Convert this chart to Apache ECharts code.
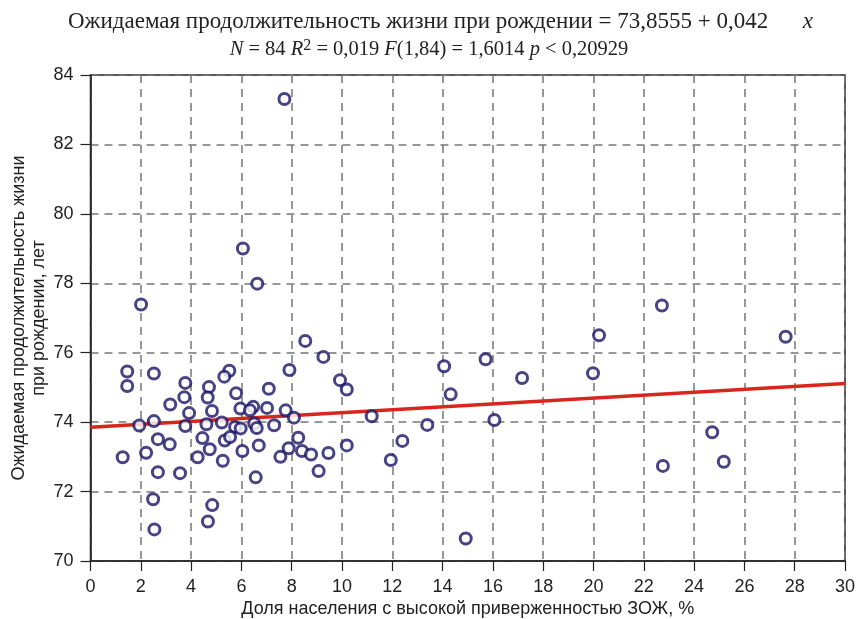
<!DOCTYPE html>
<html>
<head>
<meta charset="utf-8">
<script src="https://cdn.jsdelivr.net/npm/echarts@6/dist/echarts.min.js"></script>
<style>
  html, body { margin: 0; padding: 0; background: #fff; }
  #chart { width: 858px; height: 619px; }
</style>
</head>
<body>
<div id="chart"></div>
<script>
// доля населения с высокой приверженностью ЗОЖ, %
const shareHLS = [
  7.71, 6.06, 6.63, 2.01,
  8.54, 9.26, 1.46, 2.52, 1.46, 5.52, 5.32, 7.91, 9.92, 10.19,
  3.77, 4.71, 5.79, 7.09, 3.73, 4.66, 3.17, 3.92, 4.83, 5.96,
  6.47, 6.34, 7.02, 7.76, 8.09, 1.94, 2.52, 3.77, 4.61, 5.22,
  5.75, 5.97, 6.51, 6.61, 7.30, 2.68, 3.15, 4.45, 5.34, 5.55,
  4.74, 6.04, 6.69, 8.26, 7.88, 8.41, 8.77, 9.46, 10.19, 1.28,
  2.21, 4.26, 5.26, 7.55, 2.68, 3.56, 6.57, 9.07, 2.49, 4.84,
  2.54, 4.67,
  11.18, 11.94, 12.40, 13.39, 14.06, 14.32, 14.92, 15.71, 16.06, 17.16,
  20.22, 19.98, 22.72, 22.76, 24.72, 25.18, 27.64
];
// ожидаемая продолжительность жизни, лет
const lifeExp = [
  83.31, 79.00, 77.99, 77.39,
  76.34, 75.88, 75.46, 75.40, 75.04, 75.48, 75.31, 75.50, 75.21, 74.94,
  75.13, 75.01, 74.83, 74.96, 74.72, 74.71, 74.51, 74.26, 74.32, 74.39,
  74.44, 74.34, 74.41, 74.34, 74.13, 73.90, 74.03, 73.89, 73.94, 73.99,
  73.86, 73.82, 73.96, 73.83, 73.91, 73.51, 73.36, 73.54, 73.47, 73.57,
  73.22, 73.17, 73.33, 73.55, 73.25, 73.17, 73.07, 73.11, 73.33, 72.99,
  73.12, 72.99, 72.89, 73.00, 72.56, 72.53, 72.41, 72.59, 71.78, 71.61,
  70.91, 71.14,
  74.17, 72.91, 73.46, 73.92, 75.61, 74.80, 70.65, 75.81, 74.06, 75.27,
  76.50, 75.41, 77.36, 72.74, 73.71, 72.86, 76.46
];
// линия регрессии (концы)
const fitX = [0, 30];
const fitY = [73.8555, 75.1155];

const points = shareHLS.map((x, i) => [x, lifeExp[i]]);
const fitLine = fitX.map((x, i) => [x, fitY[i]]);

const chart = echarts.init(document.getElementById('chart'));

const serif = '"Liberation Serif", "DejaVu Serif", serif';
const sans = '"Liberation Sans", Arial, sans-serif';

chart.setOption({
  animation: false,
  backgroundColor: '#fff',
  title: [
    {
      // уравнение регрессии
      left: 63,
      top: 5,
      text: '{a|Ожидаемая продолжительность жизни при рождении = 73,8555 + 0,042      }{i|x}',
      textStyle: {
        fontWeight: 'normal',
        rich: {
          a: { fontFamily: serif, fontSize: 23, color: '#222' },
          i: { fontFamily: serif, fontSize: 23, color: '#222', fontStyle: 'italic' }
        }
      }
    },
    {
      left: 'center',
      top: 33,
      text: '{i|N}{b| = 84 }{i|R}{sup|2}{b| = 0,019 }{i|F}{b|(1,84) = 1,6014 }{i|p}{b| < 0,20929}',
      textStyle: {
        fontWeight: 'normal',
        rich: {
          b: { fontFamily: serif, fontSize: 20.5, color: '#222', lineHeight: 24 },
          i: { fontFamily: serif, fontSize: 20.5, color: '#222', fontStyle: 'italic', lineHeight: 24 },
          sup: { fontFamily: serif, fontSize: 16, color: '#222', verticalAlign: 'top', padding: [0, 0, 2, 0], lineHeight: 24 }
        }
      }
    }
  ],
  grid: {
    left: 90.5,
    right: 13,
    top: 75,
    bottom: 58,
    outerBoundsMode: 'none',
    show: true,
    borderColor: '#222',
    borderWidth: 1.5
  },
  xAxis: {
    type: 'value',
    min: 0,
    max: 30,
    interval: 2,
    name: 'Доля населения с высокой приверженностью ЗОЖ, %',
    nameLocation: 'middle',
    nameGap: 39,
    nameMoveOverlap: false,
    nameTextStyle: { fontFamily: sans, fontSize: 18, color: '#222' },
    axisLine: { show: true, lineStyle: { color: '#222', width: 1.5 } },
    axisTick: { show: true, length: 10, lineStyle: { color: '#222', width: 1.2 } },
    axisLabel: { fontFamily: sans, fontSize: 18, color: '#222', margin: 17 },
    splitLine: { show: true, lineStyle: { color: '#777', type: [8, 6], width: 1.5 } }
  },
  yAxis: {
    type: 'value',
    min: 70,
    max: 84,
    interval: 2,
    name: 'Ожидаемая продолжительность жизни\nпри рождении, лет',
    nameLocation: 'middle',
    nameGap: 41,
    nameRotate: 90,
    nameMoveOverlap: false,
    nameTextStyle: { fontFamily: sans, fontSize: 18, color: '#222', lineHeight: 20 },
    axisLine: { show: true, lineStyle: { color: '#222', width: 1.5 } },
    axisTick: { show: true, length: 10, lineStyle: { color: '#222', width: 1.2 } },
    axisLabel: { fontFamily: sans, fontSize: 18, color: '#222', margin: 17 },
    splitLine: { show: true, lineStyle: { color: '#777', type: [8, 6], width: 1.5 } }
  },
  series: [
    {
      type: 'line',
      data: fitLine,
      symbol: 'none',
      lineStyle: { color: '#d9261c', width: 3.5 },
      z: 2
    },
    {
      type: 'scatter',
      data: points,
      symbol: 'circle',
      symbolSize: 11,
      itemStyle: { color: '#fff', borderColor: '#1a1466', borderWidth: 3 },
      z: 3
    }
  ]
});
</script>
</body>
</html>
